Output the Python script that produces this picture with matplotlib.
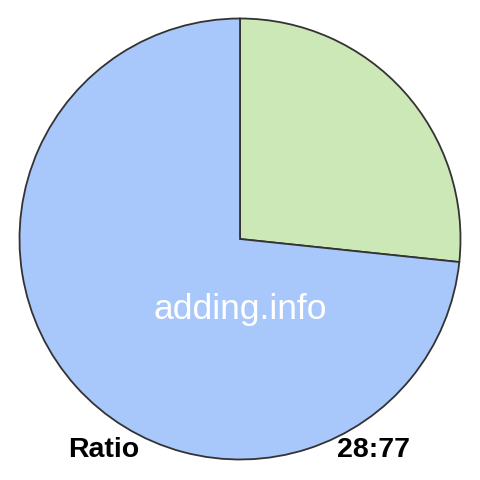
import matplotlib.pyplot as plt

labels = ['28', '77']
values = [28, 77]
colors = ['#cde8b7', '#a8c7fb']

fig = plt.figure(figsize=(4.8, 4.8), dpi=100)
ax = fig.add_axes([0, 0, 1, 1])
ax.set_aspect('equal')
ax.axis('off')

# pie in pixel coords, y axis is flipped so go counterclockwise to look clockwise
ax.pie(values, colors=colors, startangle=-90, counterclock=True,
       center=(240, 239), radius=220.5,
       wedgeprops=dict(edgecolor='#333333', linewidth=1.3))
ax.set_xlim(0, 480)
ax.set_ylim(480, 0)

ax.text(240, 310, 'adding.info', color='white', fontsize=25.5,
        family='Liberation Sans', ha='center', va='center')
ax.text(68, 450, 'Ratio', color='black', fontsize=20.5, fontweight='bold',
        family='Liberation Sans', ha='left', va='center')
ax.text(410, 450, '28:77', color='black', fontsize=20.5, fontweight='bold',
        family='Liberation Sans', ha='right', va='center')

fig.savefig('out.png', dpi=100)
